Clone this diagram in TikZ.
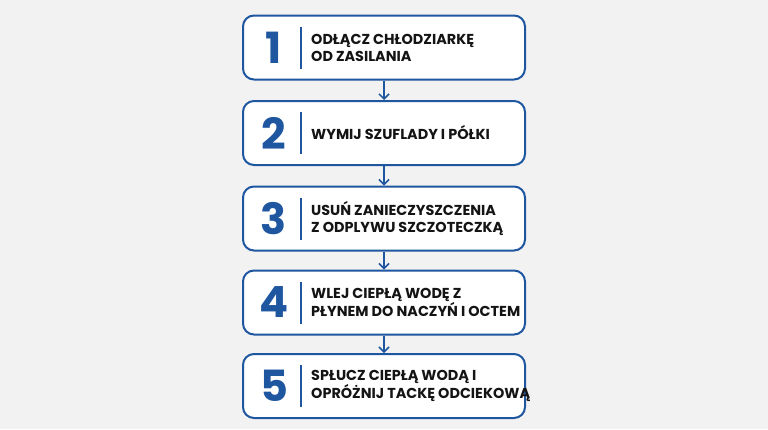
\documentclass[tikz,border=0pt]{standalone}
\usepackage{fontspec}
\setmainfont{Poppins}[BoldFont={* Bold}]
\usetikzlibrary{arrows.meta}
\definecolor{bgc}{RGB}{242,242,242}
\definecolor{blu}{RGB}{31,86,160}
\definecolor{txt}{RGB}{20,20,20}
\begin{document}
\begin{tikzpicture}[x=1pt,y=-1pt,
  stepbox/.style={draw=blu,line width=2pt,rounded corners=11pt,fill=white,minimum width=282pt,minimum height=64pt,inner sep=0pt},
  num/.style={text=blu,font=\fontsize{43}{43}\selectfont\bfseries,inner sep=0pt},
  lbl/.style={text=txt,font=\fontsize{14.4}{17}\selectfont\bfseries,align=left,anchor=west,inner sep=0pt},
  sep/.style={draw=blu,line width=1.3pt},
  conn/.style={draw=blu,line width=1.5pt,-{Straight Barb[length=5pt,width=10pt,line width=1.5pt]}}]
\useasboundingbox (0,0) rectangle (768,429);
\fill[bgc] (0,0) rectangle (768,429);
\foreach \i/\y/\t in {1/47.5/{ODŁĄCZ CHŁODZIARKĘ\\OD ZASILANIA},
                      2/133/{WYMIJ SZUFLADY I PÓŁKI},
                      3/218.5/{USUŃ ZANIECZYSZCZENIA\\Z ODPLYWU SZCZOTECZKĄ},
                      4/302.5/{WLEJ CIEPŁĄ WODĘ Z\\PŁYNEM DO NACZYŃ I OCTEM},
                      5/386/{SPŁUCZ CIEPŁĄ WODĄ I\\OPRÓŻNIJ TACKĘ ODCIEKOWĄ}}{
  \node[stepbox] (b\i) at (384,\y) {};
  \node[num] (n\i) at (274,\y) {\i};
  \coordinate (st\i) at (301,\y-21);
  \coordinate (sb\i) at (301,\y+21);
  \draw[sep] (st\i) -- (sb\i);
  \node[lbl] (t\i) at (311,\y) {\t};
}
\foreach \a/\b in {1/2,2/3,3/4,4/5}{
  \draw[conn] (b\a.south) -- (b\b.north);
}
\end{tikzpicture}
\end{document}
